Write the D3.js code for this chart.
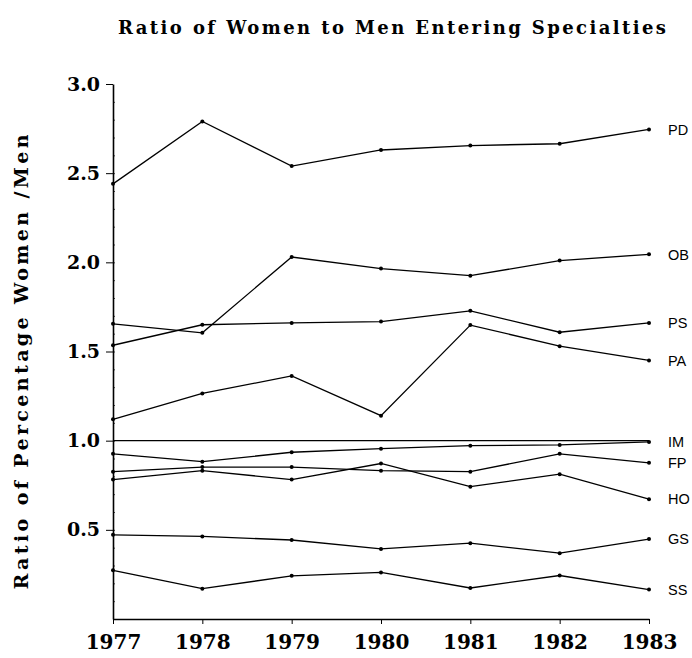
<!DOCTYPE html>
<html>
<head>
<meta charset="utf-8">
<script src="https://cdn.jsdelivr.net/npm/d3@7"></script>
<style>
  body { margin: 0; background: #fff; }
  svg { display: block; }
</style>
</head>
<body>
<svg id="chart" width="692" height="658"></svg>
<script>
// years on the x axis
const years = [1977, 1978, 1979, 1980, 1981, 1982, 1983];
// specialty codes, as labelled at the right end
const specialties = ['PD', 'OB', 'PS', 'PA', 'IM', 'FP', 'HO', 'GS', 'SS'];
// ratio values per specialty
const pdValues = [2.44, 2.79, 2.54, 2.63, 2.655, 2.665, 2.745];
const obValues = [1.655, 1.605, 2.03, 1.965, 1.925, 2.01, 2.045];
const psValues = [1.535, 1.65, 1.66, 1.668, 1.728, 1.608, 1.66];
const paValues = [1.12, 1.265, 1.363, 1.14, 1.648, 1.53, 1.45];
const imValues = [0.926, 0.882, 0.935, 0.955, 0.972, 0.976, 0.993];
const fpValues = [0.826, 0.852, 0.852, 0.832, 0.826, 0.926, 0.876];
const hoValues = [0.782, 0.832, 0.782, 0.872, 0.742, 0.812, 0.672];
const gsValues = [0.472, 0.463, 0.443, 0.393, 0.425, 0.369, 0.448];
const ssValues = [0.273, 0.17, 0.242, 0.261, 0.174, 0.244, 0.165];
// equality reference line
const equalityValues = [1.0, 1.0, 1.0, 1.0, 1.0, 1.0, 1.0];
const yTicks = [0.5, 1.0, 1.5, 2.0, 2.5, 3.0];

const seriesValues = [pdValues, obValues, psValues, paValues, imValues, fpValues, hoValues, gsValues, ssValues];

const svg = d3.select('#chart');
const serif = "'DejaVu Serif', 'Liberation Serif', serif";
const sans = "'Liberation Sans', Arial, sans-serif";

const x = d3.scaleLinear().domain([1977, 1983]).range([113, 649]);
const y = d3.scaleLinear().domain([0, 3]).range([619, 84]);

// title
svg.append('text')
  .attr('x', 392).attr('y', 34)
  .attr('text-anchor', 'middle')
  .attr('font-family', serif).attr('font-size', 18).attr('font-weight', 'bold')
  .attr('textLength', 548).attr('lengthAdjust', 'spacing')
  .text('Ratio of Women to Men Entering Specialties');

// y axis title
svg.append('text')
  .attr('transform', 'translate(28,362) rotate(-90)')
  .attr('text-anchor', 'middle')
  .attr('font-family', serif).attr('font-size', 19).attr('font-weight', 'bold')
  .attr('textLength', 455).attr('lengthAdjust', 'spacing')
  .text('Ratio of Percentage Women /Men');

// y axis with major ticks outward
const yAxis = svg.append('g')
  .attr('transform', `translate(${x(1977)},0)`)
  .call(d3.axisLeft(y).tickValues(yTicks).tickFormat(d3.format('.1f')).tickSize(7).tickSizeOuter(0).tickPadding(6));
yAxis.select('.domain').attr('stroke-width', 1.6);
yAxis.selectAll('text')
  .attr('font-family', serif).attr('font-size', 19).attr('font-weight', 'bold').attr('fill', '#000');

// minor ticks inside
svg.append('g')
  .attr('transform', `translate(${x(1977)},0)`)
  .call(d3.axisRight(y).tickValues(d3.range(1, 30).map(d => d / 10)).tickSize(2).tickFormat(''))
  .call(g => g.select('.domain').remove())
  .selectAll('line').attr('stroke-width', 0.7);

// x axis
const xAxis = svg.append('g')
  .attr('transform', `translate(0,${y(0)})`)
  .call(d3.axisBottom(x).tickValues(years).tickFormat(d3.format('d')).tickSize(5).tickSizeOuter(0).tickPadding(11));
xAxis.select('.domain').attr('stroke-width', 1.4);
xAxis.selectAll('text')
  .attr('font-family', serif).attr('font-size', 20).attr('font-weight', 'bold').attr('fill', '#000');

const line = d3.line()
  .x((d, i) => x(years[i]))
  .y(d => y(d));

// equality line
svg.append('path')
  .attr('d', line(equalityValues))
  .attr('fill', 'none').attr('stroke', '#000').attr('stroke-width', 1.3);

const series = svg.append('g').selectAll('g')
  .data(seriesValues)
  .enter()
  .append('g');

series.append('path')
  .attr('d', d => line(d))
  .attr('fill', 'none')
  .attr('stroke', '#000')
  .attr('stroke-width', 1.3);

series.selectAll('circle')
  .data(d => d)
  .enter()
  .append('circle')
  .attr('cx', (d, i) => x(years[i]))
  .attr('cy', d => y(d))
  .attr('r', 2)
  .attr('fill', '#000');

// labels at the right end
series.append('text')
  .attr('x', x(1983) + 19)
  .attr('y', d => y(d[d.length - 1]))
  .attr('dy', '0.36em')
  .attr('font-family', sans).attr('font-size', 14.5)
  .attr('fill', '#000')
  .text((d, i) => specialties[i]);
</script>
</body>
</html>
